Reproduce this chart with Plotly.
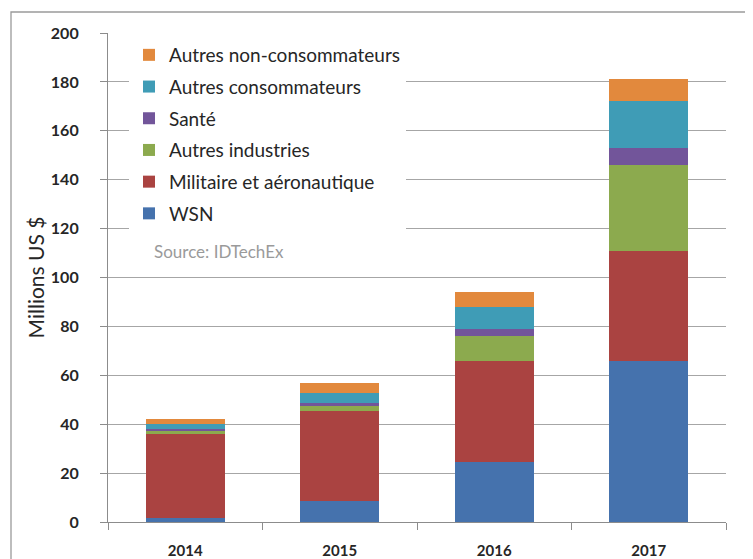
import plotly.graph_objects as go

years = ["2014", "2015", "2016", "2017"]
wsn = [1.5, 8.7, 24.7, 66]
militaire = [34.5, 36.8, 41.3, 45]
autres_industries = [1.5, 2.1, 10.1, 35]
sante = [0.5, 0.9, 2.8, 7]
autres_consommateurs = [2.0, 4.4, 8.9, 19]
autres_non_consommateurs = [2.0, 3.8, 6.4, 9]

series = [
    ("WSN", wsn, "#4572AD"),
    ("Militaire et aéronautique", militaire, "#AA4341"),
    ("Autres industries", autres_industries, "#8CAA4E"),
    ("Santé", sante, "#72559A"),
    ("Autres consommateurs", autres_consommateurs, "#3F9CB6"),
    ("Autres non-consommateurs", autres_non_consommateurs, "#E2893D"),
]

# The page body adds an 8px margin, so the figure is drawn 8px in from the
# window's top-left corner. Positions below are given in window pixels.
OFF = 8
W, H = 753 - OFF, 559 - OFF
L, R, T, B = 108 - OFF, 27, 33 - OFF, 37
pw, ph = W - L - R, H - T - B

def px(x):
    return (x - OFF - L) / pw

def py(y):
    return (H - B - (y - OFF)) / ph

fig = go.Figure()
n = len(series)
for i, (name, vals, col) in enumerate(series):
    fig.add_trace(go.Bar(
        x=years, y=vals, name=name, legendgroup=f"g{i}", legendrank=n - i,
        marker=dict(color=col, line=dict(width=0)),
    ))

fig.update_layout(
    width=W, height=H,
    margin=dict(l=L, r=R, t=T, b=B, autoexpand=False),
    barmode="stack", bargap=0.49,
    plot_bgcolor="white", paper_bgcolor="white",
    font=dict(family="Lato, Carlito, sans-serif", color="#262626"),
    showlegend=True,
    legend=dict(
        x=px(129), y=py(36), xanchor="left", yanchor="top",
        traceorder="grouped", tracegroupgap=4,
        bgcolor="white", borderwidth=0,
        font=dict(size=19, color="#262626"),
        itemclick=False,
    ),
    xaxis=dict(
        automargin=False,
        showline=True, linecolor="#8C8C8C", linewidth=1.2,
        ticks="outside", tickson="boundaries", ticklen=7, tickcolor="#8C8C8C",
        tickfont=dict(size=15, color="#262626", weight="bold"),
        ticklabelstandoff=15,
        showgrid=False,
    ),
    yaxis=dict(
        automargin=False,
        range=[0, 200], dtick=20,
        showline=True, linecolor="#8C8C8C", linewidth=1.2,
        ticks="outside", ticklen=7, tickcolor="#8C8C8C",
        tickfont=dict(size=16, color="#262626", weight="bold"),
        ticklabelstandoff=18,
        showgrid=True, gridcolor="#A6A6A6", gridwidth=1,
        zeroline=False,
        title=dict(text="Millions US $", font=dict(size=21, color="#262626"), standoff=0),
    ),
    annotations=[dict(
        text="Source: IDTechEx", xref="paper", yref="paper",
        x=px(152), y=py(252), xanchor="left", yanchor="middle",
        showarrow=False, font=dict(size=17, color="#9A9A9A"),
    )],
    shapes=[dict(
        type="rect", xref="paper", yref="paper", layer="below",
        x0=px(11), x1=px(770), y0=py(580), y1=py(12),
        line=dict(color="#9A9A9A", width=1.3), fillcolor="rgba(0,0,0,0)",
    )],
)

fig.write_html("out.html")
